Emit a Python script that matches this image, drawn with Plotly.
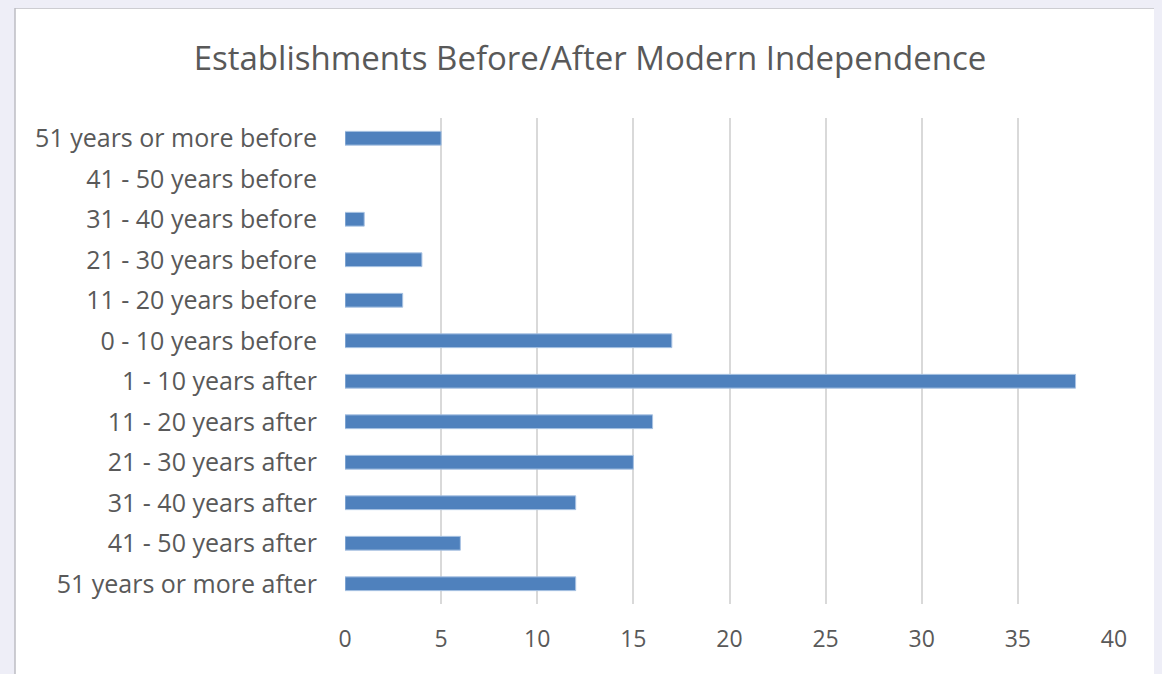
import plotly.graph_objects as go

categories = [
    "51 years or more before", "41 - 50 years before", "31 - 40 years before",
    "21 - 30 years before", "11 - 20 years before", "0 - 10 years before",
    "1 - 10 years after", "11 - 20 years after", "21 - 30 years after",
    "31 - 40 years after", "41 - 50 years after", "51 years or more after",
]
values = [5, 0, 1, 4, 3, 17, 38, 16, 15, 12, 6, 12]
x_ticks = [0, 5, 10, 15, 20, 25, 30, 35, 40]
title = "Establishments Before/After Modern Independence"

FONT = "'Open Sans', sans-serif"
TXT = "#595959"
BG = "#EEEEF7"

# page body adds an 8px offset; compensate
W, H = 1154, 666
L, R, T, B = 337, 48, 110, 70
PW, PH = W - L - R, H - T - B

fig = go.Figure(go.Bar(
    y=categories, x=values, orientation="h",
    marker=dict(color="#4F81BD",
                line=dict(color="#A9C3E3", width=[1 if v else 0 for v in values])),
    width=0.34,
))

fig.update_layout(
    width=W, height=H,
    paper_bgcolor=BG, plot_bgcolor="white",
    margin=dict(l=L, r=R, t=T, b=B),
    title=dict(text=title, x=(590 - 8) / W, xanchor="center", y=1 - (58 - 8) / H, yanchor="middle",
               font=dict(family=FONT, size=33, color=TXT)),
    font=dict(family=FONT, color=TXT),
    showlegend=False,
    shapes=[dict(type="rect", xref="paper", yref="paper",
                 x0=(15 - 8 - L) / PW, x1=(1161 - 8 - L) / PW,
                 y0=-B / PH - 0.01, y1=1 + (T - 0) / PH,
                 line=dict(color="#BDBDC4", width=1.5), fillcolor="white", layer="below")],
)
fig.update_xaxes(range=[0, 40], tickvals=x_ticks, showgrid=True, gridcolor="#D9D9D9",
                 gridwidth=2, zeroline=False, showline=False, ticks="",
                 tickfont=dict(size=23, color=TXT), ticklabelstandoff=19, fixedrange=True)
fig.update_yaxes(categoryorder="array", categoryarray=categories,
                 range=[len(categories) - 0.5, -0.5],
                 showgrid=False, zeroline=False, showline=False, ticks="",
                 tickfont=dict(size=25, color=TXT), ticklabelstandoff=27, fixedrange=True)
fig.write_html("out.html", post_script="document.body.style.background='%s';" % BG)
